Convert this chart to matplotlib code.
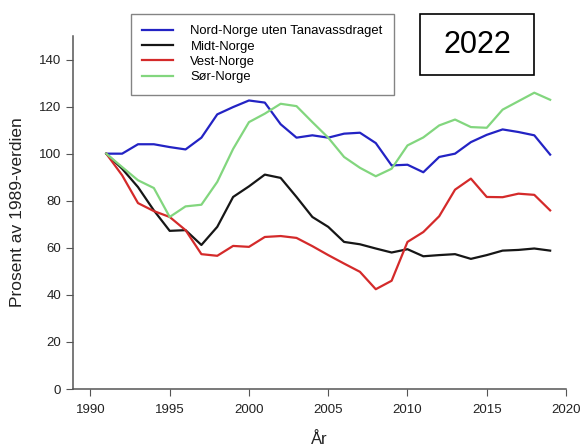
import matplotlib.pyplot as plt
from matplotlib.patches import Rectangle

plt.rcParams["font.family"] = ["Liberation Sans", "DejaVu Sans"]

years = list(range(1991, 2020))

nord = [100, 100, 104, 104, 102.8, 101.8, 106.8, 116.7, 119.8, 122.6,
        121.7, 112.5, 106.8, 107.8, 106.8, 108.5, 108.9, 104.5, 95, 95.3,
        92.1, 98.6, 100, 104.9, 108, 110.3, 109.2, 107.8, 99.6]
midt = [100, 93.6, 85.8, 75.9, 67.2, 67.5, 61.2, 68.9, 81.6, 86.1,
        91.1, 89.7, 81.6, 73.1, 68.9, 62.5, 61.5, 59.7, 58, 59.4,
        56.4, 56.9, 57.3, 55.3, 56.9, 58.8, 59.1, 59.7, 58.8]
vest = [100, 90.8, 79, 75.6, 73.1, 67.5, 57.3, 56.6, 60.8, 60.4,
        64.6, 65, 64.2, 60.7, 56.9, 53.3, 49.8, 42.4, 46, 62.5,
        66.7, 73.4, 84.7, 89.4, 81.6, 81.5, 83, 82.5, 75.9]
sor = [100, 94.3, 88.7, 85.4, 73.1, 77.6, 78.3, 88, 102, 113.4,
       117, 121.2, 120.2, 113.4, 106.8, 98.6, 94, 90.4, 93.6, 103.5,
       106.9, 112, 114.5, 111.3, 111, 118.7, 122.3, 125.9, 122.9]

series = [
    ("Nord-Norge uten Tanavassdraget", nord, "#2323c4"),
    ("Midt-Norge", midt, "#161616"),
    ("Vest-Norge", vest, "#d42a2a"),
    ("Sør-Norge", sor, "#82d67e"),
]

fig = plt.figure(figsize=(5.81, 4.46), dpi=100)
ax = fig.add_axes([73 / 581, 1 - 389 / 446, 493 / 581, 353 / 446])

for name, vals, col in series:
    ax.plot(years, vals, color=col, lw=1.6, label=name)

ax.set_xlim(1988.9, 2020)
ax.set_ylim(0, 150)
ax.set_xticks(range(1990, 2021, 5))
ax.set_yticks(range(0, 141, 20))
for side in ("top", "right"):
    ax.spines[side].set_visible(False)
for side in ("left", "bottom"):
    ax.spines[side].set_color("#555555")
    ax.spines[side].set_linewidth(1.1)
ax.tick_params(direction="out", length=5, color="#555555", labelsize=9.5,
               labelcolor="#222222")
ax.tick_params(axis="x", pad=6)
ax.set_xlabel("År", fontsize=12, color="#222222", labelpad=11)
ax.set_ylabel("Prosent av 1989-verdien", fontsize=12.5, color="#222222", labelpad=10)

fig.legend(loc="upper left", bbox_to_anchor=(131 / 581, 1 - 14 / 446),
           borderaxespad=0, fontsize=9.4, frameon=True, fancybox=False,
           edgecolor="#666666", handlelength=2.4, borderpad=0.85,
           labelspacing=0.25, handletextpad=1.3)

# year tag in the upper right corner
fig.add_artist(Rectangle((420 / 581, 1 - 75 / 446), 114 / 581, 61 / 446,
                         transform=fig.transFigure, fill=False,
                         edgecolor="black", lw=1.2))
fig.text(477 / 581, 1 - 45 / 446, "2022", fontsize=22, ha="center", va="center")

fig.savefig("out.png", dpi=100)
